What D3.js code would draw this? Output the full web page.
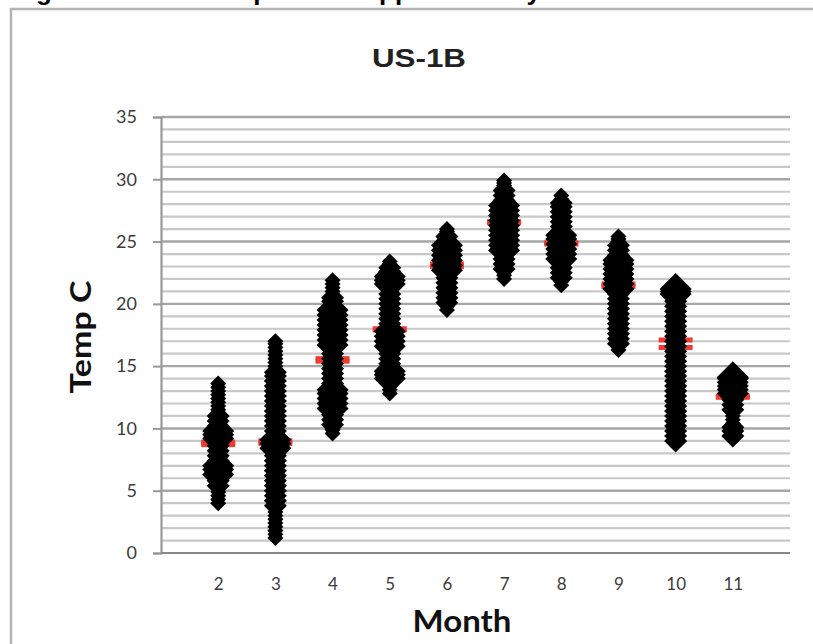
<!DOCTYPE html>
<html><head><meta charset="utf-8">
<script src="https://cdn.jsdelivr.net/npm/d3@7"></script>
<style>body{margin:0;background:#fff}svg{display:block}</style>
</head><body>
<svg id="c" width="813" height="644"></svg>
<script>
const months = [2,3,4,5,6,7,8,9,10,11];
// daily temperatures per month (small markers)
const smallPts = [
 [4.0,4.3,4.6,4.9,5.2,5.5,5.8,6.1,6.4,6.7,7.0,7.3,7.6,7.9,8.2,8.5,8.8,9.1,9.4,9.7,10.0,10.3,10.6,10.9,11.2,11.5,11.8,12.1,12.4,12.7,13.0,13.3,13.6],
 [1.2,1.5,1.8,2.1,2.4,2.7,3.0,3.3,3.6,3.9,4.2,4.5,4.8,5.1,5.4,5.7,6.0,6.3,6.6,6.9,7.2,7.5,7.8,8.1,8.4,8.7,9.0,9.3,9.6,9.9,10.2,10.5,10.8,11.1,11.4,11.7,12.0,12.3,12.6,12.9,13.2,13.5,13.8,14.1,14.4,14.7,15.0,15.3,15.6,15.9,16.2,16.5,16.8,17.0],
 [9.6,9.9,10.2,10.5,10.8,11.1,11.4,11.7,12.0,12.3,12.6,12.9,13.2,13.5,13.8,14.1,14.4,14.7,15.0,15.3,15.6,15.9,16.2,16.5,16.8,17.1,17.4,17.7,18.0,18.3,18.6,18.9,19.2,19.5,19.8,20.1,20.4,20.7,21.0,21.3,21.6,21.9],
 [12.8,13.1,13.4,13.7,14.0,14.3,14.6,14.9,15.2,15.5,15.8,16.1,16.4,16.7,17.0,17.3,17.6,17.9,18.2,18.5,18.8,19.1,19.4,19.7,20.0,20.3,20.6,20.9,21.2,21.5,21.8,22.1,22.4,22.7,23.0,23.2,23.4],
 [19.5,19.8,20.1,20.4,20.7,21.0,21.3,21.6,21.9,22.2,22.5,22.8,23.1,23.4,23.7,24.0,24.3,24.6,24.9,25.2,25.5,25.8,26.0],
 [22.0,22.3,22.6,22.9,23.2,23.5,23.8,24.1,24.4,24.7,25.0,25.3,25.6,25.9,26.2,26.5,26.8,27.1,27.4,27.7,28.0,28.3,28.6,28.9,29.2,29.5,29.7,29.9],
 [21.5,21.8,22.1,22.4,22.7,23.0,23.3,23.6,23.9,24.2,24.5,24.8,25.1,25.4,25.7,26.0,26.3,26.6,26.9,27.2,27.5,27.8,28.1,28.4,28.7],
 [16.3,16.6,16.9,17.2,17.5,17.8,18.1,18.4,18.7,19.0,19.3,19.6,19.9,20.2,20.5,20.8,21.1,21.4,21.7,22.0,22.3,22.6,22.9,23.2,23.5,23.8,24.1,24.4,24.7,25.0,25.2,25.4],
 [8.8,9.1,9.4,9.7,10.0,10.3,10.6,10.9,11.2,11.5,11.8,12.1,12.4,12.7,13.0,13.3,13.6,13.9,14.2,14.5,14.8,15.1,15.4,15.7,16.0,16.3,16.6,16.9,17.2,17.5,17.8,18.1,18.4,18.7,19.0,19.3,19.6,19.9,20.2,20.5,20.8,21.1,21.4,21.7],
 [9.2,9.5,9.8,10.1,10.4,10.7,11.0,11.3,11.6,11.9,12.2,12.5,12.8,13.1,13.4,13.7,14.0,14.2]
];
// overlapping days (medium markers)
const midPts = [
 [5.4,5.8,6.2,7.4,7.8,8.2,8.6,9.0,10.2,10.6,11.0],
 [3.8,4.2,4.6,5.0,5.4,5.8,6.2,6.6,7.0,7.4,7.8,8.2,8.6,9.0,9.4,9.8,10.2,10.6,11.0,11.4,11.8,12.2,12.6,13.0,13.4,13.8,14.2,14.5],
 [10.3,10.7,11.1,13.6,14.0,14.4,14.8,15.2,15.6,16.0,16.4,19.8,20.2,20.5],
 [14.8,15.2,15.6,16.0,18.4,18.8,19.2,19.6,20.0,20.4,20.8,22.6,22.9],
 [20.1,20.5,20.9,21.3,21.7,22.1,22.5,25.0,25.4],
 [22.8,23.2,23.6,28.3,28.7,29.1],
 [22.1,22.5,22.9,23.3,25.8,26.2,26.6,27.0,27.4,27.8,28.1],
 [16.8,17.2,17.6,18.0,18.4,18.8,19.2,19.6,20.0,20.4,20.8,23.9,24.3,24.7],
 [9.0,9.4,9.8,10.2,10.6,11.0,11.4,11.8,12.2,12.6,13.0,13.4,13.8,14.2,14.6,15.0,15.4,15.8,16.2,16.6,17.0,17.4,17.8,18.2,18.6,19.0,19.4,19.8,20.2],
 [9.4,9.8,10.1,11.5,11.9,12.3]
];
// densest days (large markers)
const largePts = [
 [6.3,6.7,7.0,9.2,9.5,9.8],
 [8.4,8.8,9.1],
 [11.6,12.0,12.4,12.8,13.1,16.7,17.1,17.5,17.9,18.3,18.7,19.1,19.5],
 [14.0,14.3,14.6,16.6,17.0,17.4,17.8,21.6,21.9,22.2],
 [22.7,23.1,23.5,23.9,24.3,24.7],
 [24.3,24.7,25.1,25.5,25.9,26.3,26.7,27.1,27.5,27.9],
 [23.6,24.0,24.4,24.8,25.2,25.5],
 [21.2,21.6,22.0,22.4,22.8,23.2,23.5],
 [20.8,21.0,21.2],
 [12.8,13.1,13.4,13.7,14.0,14.1]
];
const meanTemps   = [8.7, 9.0, 15.6, 18.0, 23.0, 26.5, 24.8, 21.4, 16.5, 12.5];
const medianTemps = [8.9, 8.8, 15.4, 17.9, 23.2, 26.6, 24.9, 21.6, 17.1, 12.6];
const yTicks = [0,5,10,15,20,25,30,35];
const yMinor = d3.range(1,35).filter(v => v % 5 !== 0);

const svg = d3.select("#c");
const x = d3.scaleLinear().domain([1,12]).range([161,790]);
const y = d3.scaleLinear().domain([0,35]).range([553,117]);

const defs = svg.append("defs");
defs.append("filter").attr("id","soft").append("feGaussianBlur").attr("stdDeviation",0.7);
defs.append("filter").attr("id","soft2").append("feGaussianBlur").attr("stdDeviation",0.45);

// outer chart border
svg.append("rect").attr("x",11).attr("y",9).attr("width",840).attr("height",700)
  .attr("fill","none").attr("stroke","#b4b4b4").attr("stroke-width",2.5);

// caption (cut off at top, as in the reference)
svg.append("text").attr("x",13).attr("y",0)
  .attr("font-family","Liberation Sans, Arial, sans-serif").attr("font-weight","bold")
  .attr("font-size",26).attr("fill","#000")
  .text("Figure 2. Water temperature approximately at site");

// title
svg.append("text").attr("x",419).attr("y",67).attr("text-anchor","middle")
  .attr("font-family","Liberation Sans, Arial, sans-serif").attr("font-weight","bold")
  .attr("font-size",26).attr("fill","#222").attr("textLength",94).attr("lengthAdjust","spacingAndGlyphs")
  .text("US-1B");

// grid lines
const g = svg.append("g").attr("filter","url(#soft2)");
g.selectAll("line.minor").data(yMinor).join("line")
  .attr("x1",161).attr("x2",790).attr("y1",d=>y(d)).attr("y2",d=>y(d))
  .attr("stroke","#c8c8c8").attr("stroke-width",2.2);
g.selectAll("line.major").data(yTicks.filter(d=>d>0)).join("line")
  .attr("x1",161).attr("x2",790).attr("y1",d=>y(d)).attr("y2",d=>y(d))
  .attr("stroke","#a6a6a6").attr("stroke-width",2.4);

// y axis
const yAxis = svg.append("g").attr("transform","translate(161,0)")
  .call(d3.axisLeft(y).tickValues(yTicks).tickSize(8).tickPadding(16));
yAxis.select(".domain").attr("stroke","#999").attr("stroke-width",2.2);
yAxis.selectAll(".tick line").attr("stroke","#999").attr("stroke-width",2);
yAxis.selectAll("text").attr("font-family","Lato, sans-serif").attr("font-size",18).attr("fill","#3a3a3a");

// x axis
const xAxis = svg.append("g").attr("transform","translate(0,553)")
  .call(d3.axisBottom(x).tickValues(months).tickSize(0).tickPadding(25));
xAxis.select(".domain").attr("stroke","#888").attr("stroke-width",2.2).attr("d","M161,0H790");
xAxis.selectAll("text").attr("font-family","Lato, sans-serif").attr("font-size",17).attr("fill","#3a3a3a");

// axis titles
svg.append("text").attr("x",462).attr("y",632).attr("text-anchor","middle")
  .attr("font-family","Lato, sans-serif").attr("font-weight","bold").attr("font-size",30)
  .attr("fill","#111").attr("textLength",99).attr("lengthAdjust","spacingAndGlyphs").text("Month");
svg.append("text").attr("transform","translate(91,337) rotate(-90)").attr("text-anchor","middle")
  .attr("font-family","Lato, sans-serif").attr("font-weight","bold").attr("font-size",28)
  .attr("fill","#111").attr("textLength",113).attr("lengthAdjust","spacingAndGlyphs").text("Temp C");

// red mean / median dashes
const redData = [];
months.forEach((m,i)=>{ redData.push([m,meanTemps[i]]); redData.push([m,medianTemps[i]]); });
svg.append("g").attr("filter","url(#soft2)").selectAll("rect").data(redData).join("rect")
  .attr("x",d=>x(d[0])-17).attr("y",d=>y(d[1])-2.5).attr("width",34).attr("height",5)
  .attr("fill","#f03a30");

// diamonds
function diamond(r){ return `M0,${-r}L${r},0L0,${r}L${-r},0Z`; }
function flat(arr){ const out=[]; arr.forEach((vals,i)=>vals.forEach(v=>out.push([months[i],v]))); return out; }
const marks = svg.append("g").attr("filter","url(#soft)");
[[smallPts,8],[midPts,11.5],[largePts,16]].forEach(([arr,r])=>{
  marks.append("g").selectAll("path").data(flat(arr)).join("path")
    .attr("transform",d=>`translate(${x(d[0])},${y(d[1])})`)
    .attr("d",diamond(r)).attr("fill","#000");
});
</script>
</body></html>
